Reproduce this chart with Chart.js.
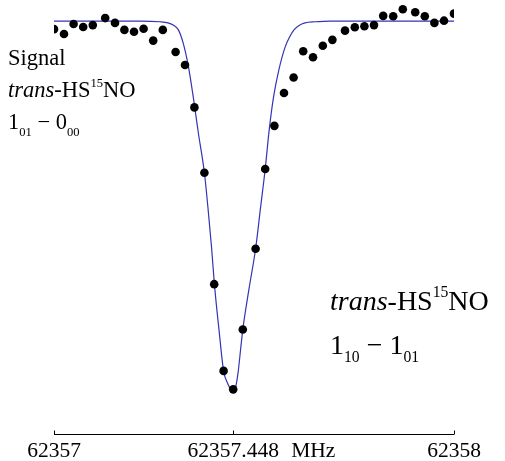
<!DOCTYPE html>
<html>
<head>
<meta charset="utf-8">
<script src="https://cdn.jsdelivr.net/npm/chart.js@4.4.1/dist/chart.umd.min.js"></script>
<style>
  html, body { margin: 0; padding: 0; background: #fff; }
</style>
</head>
<body>
<canvas id="spectrum" width="505" height="461"></canvas>
<script>
// Frequencies are stored as offsets (MHz) above this value
const FREQ_BASE = 62357;

// Measured signal points
const pointOffsets = [0.000, 0.025, 0.049, 0.073, 0.097, 0.128, 0.1525, 0.176, 0.200, 0.224,
  0.248, 0.272, 0.304, 0.3275, 0.351, 0.376, 0.4005, 0.424, 0.448, 0.472,
  0.504, 0.528, 0.551, 0.575, 0.599, 0.623, 0.6475, 0.672, 0.696, 0.7275,
  0.752, 0.776, 0.800, 0.823, 0.848, 0.872, 0.903, 0.927, 0.951, 0.975, 1.000];
const pointSignal = [0.978, 0.965, 0.992, 0.984, 0.989, 1.008, 0.995, 0.976, 0.971, 0.979,
  0.947, 0.976, 0.916, 0.881, 0.766, 0.589, 0.287, 0.052, 0.002, 0.164,
  0.383, 0.599, 0.716, 0.805, 0.847, 0.918, 0.902, 0.933, 0.949, 0.974,
  0.983, 0.986, 0.989, 1.014, 1.013, 1.032, 1.024, 1.013, 0.995, 1.001, 1.020];

// Fitted line profile, sampled along the curve
const fitOffsets = [0.000, 0.215, 0.265, 0.285, 0.300, 0.311, 0.323, 0.336, 0.348, 0.361,
  0.376, 0.385, 0.394, 0.401, 0.4125, 0.424, 0.435, 0.4425, 0.448, 0.4538,
  0.460, 0.4663, 0.472, 0.4875, 0.504, 0.516, 0.528, 0.538, 0.549, 0.562,
  0.578, 0.590, 0.600, 0.6125, 0.6275, 0.6525, 0.690, 1.000];
const fitSignal = [1.000, 1.000, 0.998, 0.995, 0.988, 0.976, 0.940, 0.877, 0.795, 0.696,
  0.589, 0.493, 0.385, 0.287, 0.163, 0.052, 0.016, 0.001, -0.003, 0.007,
  0.046, 0.108, 0.164, 0.274, 0.383, 0.491, 0.599, 0.705, 0.795, 0.867,
  0.930, 0.959, 0.976, 0.988, 0.995, 0.998, 1.000, 1.000];

const tickValues = [62357, 62357.448, 62358];
const unitLabel = 'MHz';

// Annotation blocks: runs of text, optionally italic / superscript / subscript
const leftLabel = [
  [{ t: 'Signal' }],
  [{ t: 'trans', it: true }, { t: '-HS' }, { t: '15', sup: true }, { t: 'NO' }],
  [{ t: '1' }, { t: '01', sub: true }, { t: ' \u2212 0' }, { t: '00', sub: true }]
];
const rightLabel = [
  [{ t: 'trans', it: true }, { t: '-HS' }, { t: '15', sup: true }, { t: 'NO' }],
  [{ t: '1' }, { t: '10', sub: true }, { t: ' \u2212 1' }, { t: '01', sub: true }]
];

const SERIF = '"Liberation Serif", "DejaVu Serif", serif';
const TICK_PAD = 7;

function drawRich(ctx, x, y, runs, size) {
  let cx = x;
  runs.forEach(r => {
    const small = r.sup || r.sub;
    const fs = small ? size * 0.56 : size;
    ctx.font = (r.it ? 'italic ' : '') + fs + 'px ' + SERIF;
    let dy = 0;
    if (r.sup) dy = -0.45 * size;
    if (r.sub) dy = 0.3 * size;
    ctx.fillText(r.t, cx, y + dy);
    cx += ctx.measureText(r.t).width;
  });
}

const decorations = {
  id: 'decorations',
  afterDraw(chart) {
    const ctx = chart.ctx;
    const xs = chart.scales.x;
    const y0 = Math.round(xs.top) + 0.5;
    ctx.save();
    ctx.strokeStyle = '#000';
    ctx.lineWidth = 1;
    // axis line with inward tick marks
    ctx.beginPath();
    ctx.moveTo(xs.getPixelForValue(xs.min), y0);
    ctx.lineTo(xs.getPixelForValue(xs.max), y0);
    tickValues.forEach(v => {
      const px = Math.round(xs.getPixelForValue(v)) + 0.5;
      ctx.moveTo(px, y0);
      ctx.lineTo(px, y0 - 4);
    });
    ctx.stroke();

    ctx.fillStyle = '#000';
    ctx.textBaseline = 'top';
    ctx.textAlign = 'left';
    ctx.font = '21.5px ' + SERIF;
    ctx.fillText(unitLabel, xs.getPixelForValue(62357.448) + 58, xs.top + TICK_PAD);

    ctx.textBaseline = 'alphabetic';
    leftLabel.forEach((line, i) => drawRich(ctx, 8, 65 + i * 32, line, 22.5));
    rightLabel.forEach((line, i) => drawRich(ctx, 330, 310 + i * 44, line, 28));
    ctx.restore();
  }
};

const toPoints = (offs, vals) => offs.map((o, i) => ({ x: FREQ_BASE + o, y: vals[i] }));

new Chart(document.getElementById('spectrum'), {
  type: 'scatter',
  data: {
    datasets: [
      {
        label: 'Signal',
        data: toPoints(pointOffsets, pointSignal),
        backgroundColor: '#000',
        borderWidth: 0,
        pointRadius: 4.3,
        clip: 0
      },
      {
        label: 'Fit',
        data: toPoints(fitOffsets, fitSignal),
        showLine: true,
        borderColor: '#3434b4',
        borderWidth: 1.2,
        pointRadius: 0,
        cubicInterpolationMode: 'monotone',
        clip: 0
      }
    ]
  },
  options: {
    responsive: false,
    animation: false,
    events: [],
    layout: { autoPadding: false, padding: { left: 54, right: 51, top: 0, bottom: 0 } },
    plugins: { legend: { display: false }, tooltip: { enabled: false } },
    scales: {
      x: {
        type: 'linear',
        min: 62357,
        max: 62358,
        afterBuildTicks: s => { s.ticks = tickValues.map(v => ({ value: v })); },
        afterFit: s => { s.height = 27; },
        grid: { display: false, drawTicks: false, tickLength: 0 },
        border: { display: false },
        ticks: {
          autoSkip: false,
          maxRotation: 0,
          padding: TICK_PAD,
          color: '#000',
          font: { family: SERIF, size: 21.5, lineHeight: 1 },
          callback: v => v === 62357.448 ? '62357.448' : String(v)
        }
      },
      y: { display: false, min: -0.119, max: 1.057 }
    }
  },
  plugins: [decorations]
});
</script>
</body>
</html>
